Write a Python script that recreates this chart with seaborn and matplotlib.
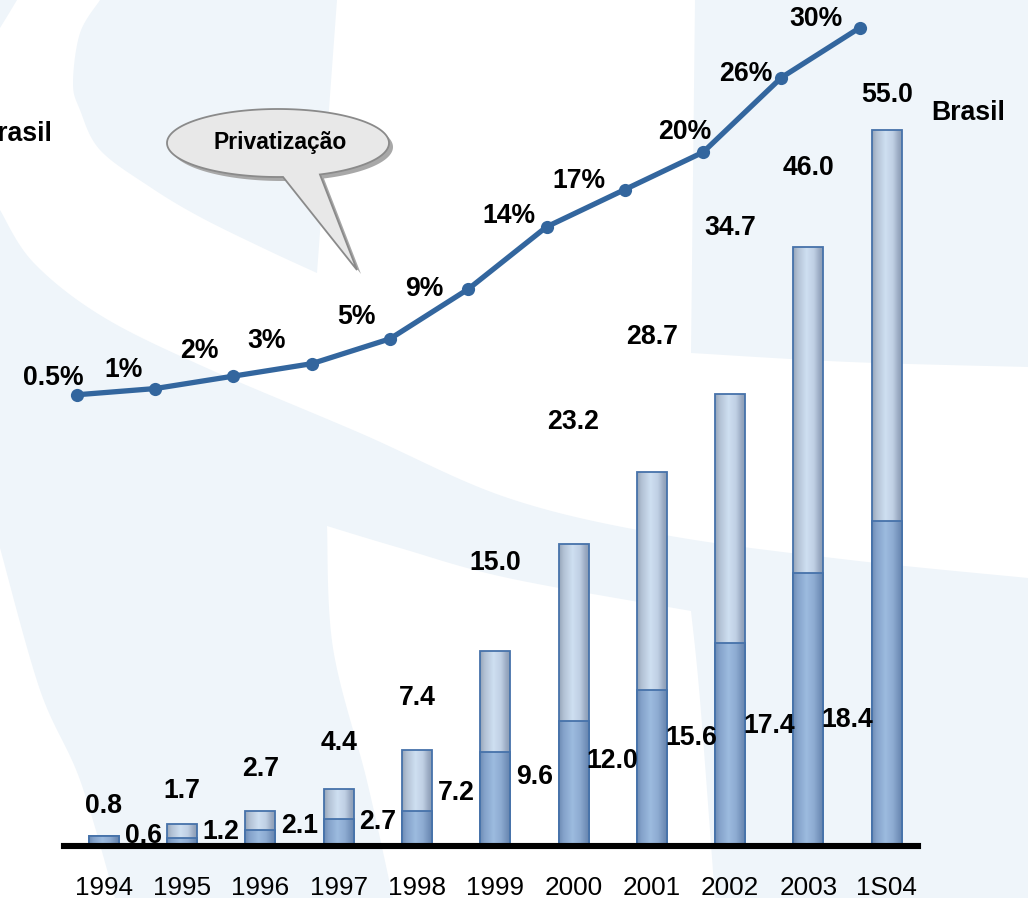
import numpy as np
import pandas as pd
import matplotlib
matplotlib.use("Agg")
import matplotlib.pyplot as plt
import seaborn as sns
from matplotlib.patches import Polygon

# ---------------- data ----------------
categories = ['1994', '1995', '1996', '1997', '1998', '1999', '2000', '2001', '2002', '2003', '1S04']
totals = [0.8, 1.7, 2.7, 4.4, 7.4, 15.0, 23.2, 28.7, 34.7, 46.0, 55.0]
base_heights = [0.8, 0.6, 1.2, 2.1, 2.7, 7.2, 9.6, 12.0, 15.6, 21.0, 25.0]
base_labels = ['', '0.6', '1.2', '2.1', '2.7', '7.2', '9.6', '12.0', '15.6', '17.4', '18.4']
share_pct = [0.5, 1, 2, 3, 5, 9, 14, 17, 20, 26, 30]
share_labels = ['0.5%', '1%', '2%', '3%', '5%', '9%', '14%', '17%', '20%', '26%', '30%']

# ---------------- layout / style ----------------
total_label_lift = [2.3, 2.5, 3.2, 3.5, 4.0, 6.7, 9.4, 10.4, 12.8, 6.1, 2.7]
pct_label_offset = [(-24, 17), (-32, 19), (-34, 25), (-45, 23), (-34, 22), (-44, 0),
                    (-38, 11), (-46, 9), (-18, 20), (-36, 4), (-44, 9)]
LINE_SHIFT = -0.345
BAR_W = 0.383
EDGE = '#4672AA'
LINE_C = '#33669E'
BG_C = '#EFF5FA'
FS = 19.2
FS_TICK = 18.8

sns.set_style('white')
plt.rcParams['font.family'] = ['Liberation Sans', 'DejaVu Sans']
plt.rcParams['text.color'] = 'black'
plt.rcParams['xtick.color'] = 'black'
plt.rcParams['xtick.labelcolor'] = 'black'

W, H = 1028, 898
fig = plt.figure(figsize=(W / 100, H / 100), dpi=100)
fig.patch.set_facecolor('white')

# ---------------- decorative background ----------------
bg = fig.add_axes([0, 0, 1, 1], zorder=0)
bg.set_xlim(0, W)
bg.set_ylim(H, 0)
bg.set_axis_off()


def smooth(pts, n=24):
    pts = np.asarray(pts, float)
    out = []
    for i in range(len(pts) - 1):
        p0 = pts[max(i - 1, 0)]
        p1 = pts[i]
        p2 = pts[i + 1]
        p3 = pts[min(i + 2, len(pts) - 1)]
        t = np.linspace(0, 1, n, endpoint=False)[:, None]
        seg = 0.5 * ((2 * p1) + (-p0 + p2) * t + (2 * p0 - 5 * p1 + 4 * p2 - p3) * t ** 2
                     + (-p0 + 3 * p1 - 3 * p2 + p3) * t ** 3)
        out.append(seg)
    out.append(pts[-1:])
    return np.vstack(out)


shapeA = np.vstack([smooth([(100, 0), (80, 33), (73, 83), (80, 110), (100, 150), (150, 187),
                            (200, 217), (267, 250), (317, 273)]), [(337, 0)]])
shapeB = np.array([(0, 0), (17, 0), (8, 15), (0, 28)])
shapeC = np.vstack([
    smooth([(0, 210), (33, 262), (100, 315), (200, 365), (360, 433), (508, 498), (665, 535),
            (850, 560), (1028, 578)]),
    [(1028, 898), (715, 898)],
    smooth([(715, 898), (700, 700), (691, 611)]),
    smooth([(691, 611), (508, 578), (400, 548), (327, 526)]),
    smooth([(327, 526), (333, 648), (367, 781), (393, 898)]),
    smooth([(115, 898), (80, 780), (40, 690), (0, 548)]),
])
shapeD = np.vstack([[(695, 0)], smooth([(691, 353), (850, 362), (1028, 367)]), [(1028, 0)]])
for shp in (shapeA, shapeB, shapeC, shapeD):
    bg.add_patch(Polygon(shp, closed=True, facecolor=BG_C, edgecolor='none'))

# ---------------- bars ----------------
ax = fig.add_axes([64 / W, 52 / H, 854 / W, 846 / H], zorder=1)
ax.set_facecolor('none')
df = pd.DataFrame({'cat': categories, 'total': totals, 'base': base_heights})
sns.barplot(data=df, x='cat', y='total', ax=ax, width=BAR_W, color='#C8D8EA', saturation=1,
            edgecolor=EDGE, linewidth=1.3, zorder=2)
sns.barplot(data=df, x='cat', y='base', ax=ax, width=BAR_W, color='#98B8DC', saturation=1,
            edgecolor=EDGE, linewidth=1.3, zorder=3)

upper_stops = np.array([(150, 165, 185), (178, 193, 212), (206, 223, 241), (192, 208, 228),
                        (152, 168, 192), (140, 158, 182)]) / 255
lower_stops = np.array([(110, 140, 180), (132, 162, 202), (156, 187, 223), (142, 172, 210),
                        (115, 145, 186), (104, 134, 174)]) / 255
stop_pos = np.array([0, 0.15, 0.45, 0.7, 0.9, 1.0])


def gradient(stops, n=64):
    xs = np.linspace(0, 1, n)
    return np.stack([np.interp(xs, stop_pos, stops[:, k]) for k in range(3)], axis=1)


patches = list(ax.patches)
n = len(categories)
for idx, p in enumerate(patches):
    stops = upper_stops if idx < n else lower_stops
    z = p.get_zorder()
    x0, y0 = p.get_x(), p.get_y()
    w, h = p.get_width(), p.get_height()
    if h <= 0:
        continue
    im = ax.imshow(gradient(stops)[np.newaxis, :, :], extent=[x0, x0 + w, y0, y0 + h],
                   aspect='auto', interpolation='bilinear', zorder=z - 0.05)
    im.set_clip_path(p)
    p.set_facecolor('none')

ax.set_xlim(-0.51, 10.40)
ax.set_ylim(0, 846 / 13.02)
ax.set_xticks(range(n))
ax.set_xticklabels(categories, fontsize=FS_TICK, color='black')
ax.tick_params(axis='x', length=0, pad=21.5, colors='black')
ax.set_yticks([])
ax.set_xlabel('')
ax.set_ylabel('')
for s in ('top', 'right', 'left'):
    ax.spines[s].set_visible(False)
ax.spines['bottom'].set_linewidth(4.4)
ax.spines['bottom'].set_color('black')
ax.spines['bottom'].set_zorder(5)

for i in range(n):
    ax.text(i, totals[i] + total_label_lift[i], f'{totals[i]:.1f}', ha='center', va='center',
            fontsize=FS, fontweight='bold', color='black', zorder=6)
    if base_labels[i]:
        ax.text(i - 0.5, 0.5 + 0.5 * float(base_labels[i]), base_labels[i], ha='center',
                va='center', fontsize=FS, fontweight='bold', color='black', zorder=6)

# ---------------- share line ----------------
ax2 = fig.add_axes([64 / W, 52 / H, 854 / W, 846 / H], zorder=2)
ax2.set_facecolor('none')
xs = np.arange(n) + LINE_SHIFT
sns.lineplot(x=xs, y=share_pct, ax=ax2, color=LINE_C, linewidth=3.8, marker='o',
             markersize=9.5, markeredgewidth=0, sort=False)
ax2.set_xlim(-0.51, 10.40)
ax2.set_ylim(-445 / 12.44, 401 / 12.44)
ax2.set_axis_off()
for i in range(n):
    ax2.annotate(share_labels[i], (xs[i], share_pct[i]), xytext=pct_label_offset[i],
                 textcoords='offset pixels', ha='center', va='center', fontsize=FS,
                 fontweight='bold', color='black')

# ---------------- callout & side labels ----------------
ov = fig.add_axes([0, 0, 1, 1], zorder=3)
ov.set_xlim(0, W)
ov.set_ylim(H, 0)
ov.set_axis_off()
ov.set_facecolor('none')
cx, cy, ea, eb = 278, 143, 111, 34
th = np.radians(np.linspace(67.8, 87.4 - 360, 240))
bubble = np.column_stack([cx + ea * np.cos(th), cy + eb * np.sin(th)])
bubble = np.vstack([bubble, [(357, 270)]])
ov.add_patch(Polygon(bubble + np.array([4, 4]), closed=True, facecolor='#A8A8A8',
                     edgecolor='none'))
ov.add_patch(Polygon(bubble, closed=True, facecolor='#E8E8E8', edgecolor='#8A8A8A',
                     linewidth=1.3))
ov.text(280, 143, 'Privatização', ha='center', va='center', fontsize=16.5,
        fontweight='bold', color='black')

ov.text(968, 113, 'Brasil', ha='center', va='center', fontsize=FS, fontweight='bold',
        color='black')
ov.text(52, 134, 'Brasil', ha='right', va='center', fontsize=FS, fontweight='bold',
        color='black')

fig.savefig('out.png', dpi=100, facecolor='white')
